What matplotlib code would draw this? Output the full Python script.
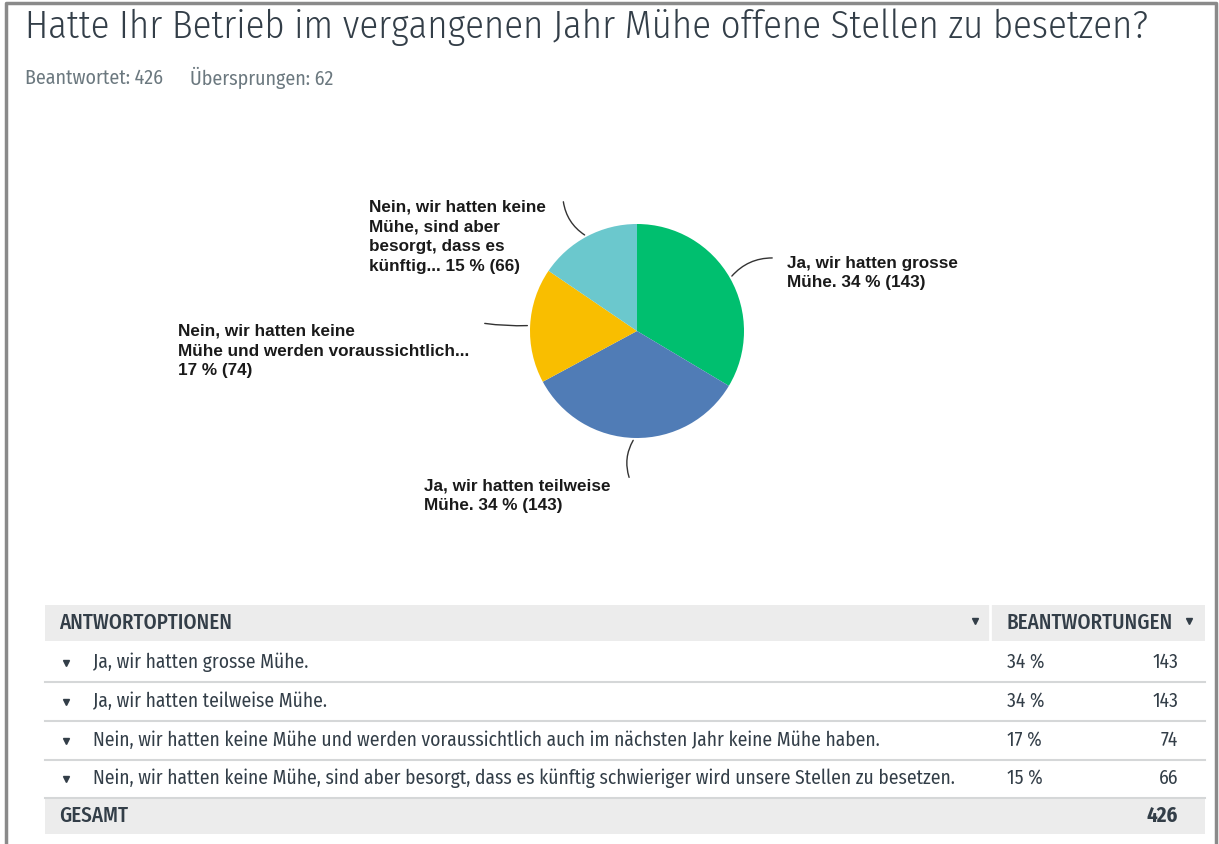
import numpy as np
import matplotlib.pyplot as plt
from matplotlib import font_manager

# Daten
antworten = ["Ja, wir hatten grosse Mühe.",
             "Ja, wir hatten teilweise Mühe.",
             "Nein, wir hatten keine Mühe und werden voraussichtlich auch im nächsten Jahr keine Mühe haben.",
             "Nein, wir hatten keine Mühe, sind aber besorgt, dass es künftig schwieriger wird unsere Stellen zu besetzen."]
kurz = ["Ja, wir hatten grosse\nMühe. ",
        "Ja, wir hatten teilweise\nMühe. ",
        "Nein, wir hatten keine\nMühe und werden voraussichtlich...\n",
        "Nein, wir hatten keine\nMühe, sind aber\nbesorgt, dass es\nkünftig... "]
prozent = [34, 34, 17, 15]
anzahl = [143, 143, 74, 66]
beantwortet = 426
uebersprungen = 62
farben = ["#00bf6f", "#507cb6", "#f9be00", "#6bc8cd"]

names = {f.name for f in font_manager.fontManager.ttflist}
cond = next((n for n in ["Fira Sans Condensed", "Barlow Semi Condensed", "Roboto Condensed",
                         "IBM Plex Sans Condensed", "Liberation Sans Narrow"] if n in names),
            "Liberation Sans")
plt.rcParams['font.family'] = ['Liberation Sans', 'DejaVu Sans']

W, H = 1219, 844
fig = plt.figure(figsize=(W / 100, H / 100), dpi=100)
ax = fig.add_axes([0, 0, 1, 1])
rend = fig.canvas.get_renderer()


def fit(t, width):
    # Schriftgrösse so anpassen, dass die Breite der Vorlage entspricht
    w = t.get_window_extent(rend).width
    t.set_fontsize(t.get_fontsize() * width / w)
    return t.get_fontsize()


# Kuchen (y-Achse nach unten: startangle -90 = oben, läuft im Uhrzeigersinn)
cx, cy, r = 637, 331, 107
wedges, _ = ax.pie(anzahl, colors=farben, startangle=-90, counterclock=True,
                   center=(cx, cy), radius=r, wedgeprops=dict(linewidth=0))
ax.set_xlim(0, W)
ax.set_ylim(H, 0)
ax.set_aspect('auto')
ax.axis('off')

# Rahmen
ax.plot([6, 6, 1216, 1216], [H, 3, 3, H], color="#8a8a8a", lw=2.5, solid_capstyle='butt')

t = ax.text(25, 27, "Hatte Ihr Betrieb im vergangenen Jahr Mühe offene Stellen zu besetzen?",
            fontsize=24, color="#333e48", va='center', ha='left', family=cond, fontweight=300)
fit(t, 1122)
t = ax.text(25, 78, "Beantwortet: %d" % beantwortet, fontsize=11, color="#6b787f", va='center', family=cond)
fs_sub = fit(t, 138)
ax.text(190, 78, "Übersprungen: %d" % uebersprungen, fontsize=fs_sub, color="#6b787f", va='center', family=cond)

# Beschriftungen mit Führungslinien
lab_pos = [(787, 273), (424, 496), (178, 351), (369, 237)]
line_end = [(775, 258), (630, 480), (482, 323), (563, 199)]
rads = [0.25, -0.25, 0.05, 0.25]
probe = ax.text(0, 0, "Ja, wir hatten grosse", fontsize=12, fontweight='bold')
fs_lab = fit(probe, 170)
probe.remove()
for w, txt, p, n, (lx, ly), (ex, ey), rd in zip(wedges, kurz, prozent, anzahl, lab_pos, line_end, rads):
    a = np.deg2rad((w.theta1 + w.theta2) / 2)
    sx, sy = cx + r * np.cos(a), cy + r * np.sin(a)
    ax.text(lx, ly, txt + "%d %% (%d)" % (p, n), fontsize=fs_lab, fontweight='bold', color="#1a1a1a",
            ha='left', va='center', linespacing=1.4)
    ax.annotate("", xy=(sx, sy), xytext=(ex, ey),
                arrowprops=dict(arrowstyle='-', color="#333333", lw=1,
                                connectionstyle="arc3,rad=%s" % rd))

# Tabelle
x0, x1, xs = 45, 1205, 990
tc = "#333e48"
ax.fill_between([x0, x1], 605, 641, color="#ececec", lw=0)
ax.plot([xs, xs], [605, 641], color="white", lw=2)
t = ax.text(59, 623, "ANTWORTOPTIONEN", fontsize=11.5, color=tc, va='center', family=cond, fontweight='medium')
fs_head = fit(t, 173)
ax.text(1007, 623, "BEANTWORTUNGEN", fontsize=fs_head, color=tc, va='center', family=cond, fontweight='medium')
ax.plot([975, 1189], [621, 621], 'v', color=tc, ms=5, ls='none')

probe = ax.text(0, 0, antworten[3], fontsize=11.5, family=cond)
fs_row = fit(probe, 860)
probe.remove()
rows_y = [662, 701, 740, 778]
for a_txt, p, n, y in zip(antworten, prozent, anzahl, rows_y):
    ax.plot(66, y + 1, 'v', color=tc, ms=4.5)
    ax.text(93, y, a_txt, fontsize=fs_row, color=tc, va='center', family=cond)
    ax.text(1007, y, "%d %%" % p, fontsize=fs_row, color=tc, va='center', family=cond)
    ax.text(1178, y, "%d" % n, fontsize=fs_row, color=tc, va='center', ha='right', family=cond)
    ax.plot([x0, x1], [y + 19.5, y + 19.5], color="#d5d7d8", lw=1.5)

ax.fill_between([x0, x1], 797, 834, color="#ececec", lw=0)
ax.text(59, 816, "GESAMT", fontsize=fs_head, color=tc, va='center', family=cond, fontweight='medium')
ax.text(1178, 816, "%d" % sum(anzahl), fontsize=fs_head, color=tc, va='center', ha='right',
        family=cond, fontweight='bold')

fig.savefig("out.png", dpi=100)
